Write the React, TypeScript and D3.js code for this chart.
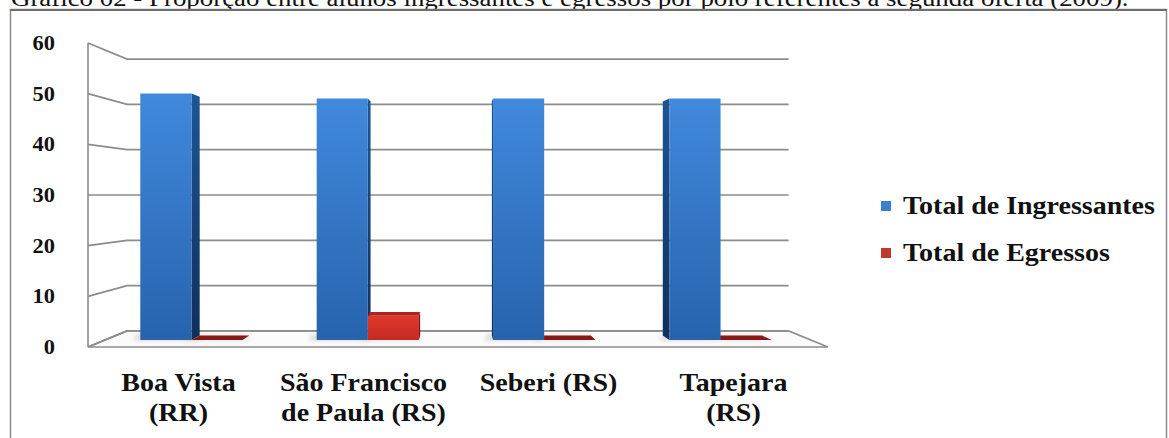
import React from 'react';
import * as d3 from 'd3';

// ---- data ----
const categories = ['Boa Vista (RR)', 'São Francisco de Paula (RS)', 'Seberi (RS)', 'Tapejara (RS)'];
const categoryLines = [['Boa Vista', '(RR)'], ['São Francisco', 'de Paula (RS)'], ['Seberi (RS)'], ['Tapejara', '(RS)']];
const seriesNames = ['Total de Ingressantes', 'Total de Egressos'];
const ingressantes = [51, 50, 50, 50];
const egressos = [0, 5, 0, 0];
const yTicks = [0, 10, 20, 30, 40, 50, 60];
const title = 'Gráfico 02 - Proporção entre alunos ingressantes e egressos por polo referentes à segunda oferta (2009).';

// ---- layout ----
const W = 1169;
const H = 438;
const FONT = "'Liberation Serif', 'Times New Roman', Times, serif";
const SX = 1.12; // horizontal stretch of the lettering

// simple one-point perspective: depth 0 = front plane, depth 1 = back wall
const VP = { x: 456, y: 195 };
const SHRINK = 0.106;
const proj = (px: number, py: number, d: number): [number, number] => {
  const f = 1 - SHRINK * d;
  return [VP.x + (px - VP.x) * f, VP.y + (py - VP.y) * f];
};
const pts = (list: [number, number][]) => list.map((p) => `${p[0].toFixed(2)},${p[1].toFixed(2)}`).join(' ');

const FLOOR_X0 = 88;
const FLOOR_X1 = 828;
const x = d3.scaleBand<string>().domain(categories).range([FLOOR_X0 - 2, FLOOR_X1 - 2]).paddingInner(0.42).paddingOuter(0.21);
const xs = d3.scaleBand<string>().domain(seriesNames).range([0, x.bandwidth()]);
const y = d3.scaleLinear().domain([0, 60]).range([347, 43]);
const D0 = 0.44;
const D1 = 0.72;

type Bar = { x0: number; x1: number; v: number; series: number };
const bars: Bar[] = [];
categories.forEach((c, i) => {
  [ingressantes, egressos].forEach((vals, j) => {
    const x0 = (x(c) as number) + (xs(seriesNames[j]) as number);
    bars.push({ x0, x1: x0 + xs.bandwidth(), v: vals[i], series: j });
  });
});
// paint farthest from the vanishing line first
bars.sort((a, b) => Math.abs((b.x0 + b.x1) / 2 - VP.x) - Math.abs((a.x0 + a.x1) / 2 - VP.x));

const palette = [
  { front: 'url(#blueFront)', side: 'url(#blueSide)' },
  { front: 'url(#redFront)', side: '#7e1512' },
];

const Txt = ({ x: tx, y: ty, anchor = 'start', size, weight = 'bold', children }: any) => (
  <text
    transform={`translate(${tx},${ty}) scale(${SX},1)`}
    textAnchor={anchor}
    fontFamily={FONT}
    fontSize={size}
    fontWeight={weight}
    fill="#111"
  >
    {children}
  </text>
);

export default function App() {
  const yb = y(0);
  return (
    <svg width={W} height={H} style={{ position: 'absolute', left: 0, top: 0, background: '#fff' }}>
      <defs>
        <linearGradient id="blueFront" x1="0" y1="0" x2="0" y2="1">
          <stop offset="0" stopColor="#4189dc" />
          <stop offset="1" stopColor="#2763ad" />
        </linearGradient>
        <linearGradient id="blueSide" x1="0" y1="0" x2="0" y2="1">
          <stop offset="0" stopColor="#1d5595" />
          <stop offset="1" stopColor="#102f5c" />
        </linearGradient>
        <linearGradient id="redFront" x1="0" y1="0" x2="0" y2="1">
          <stop offset="0" stopColor="#e0392e" />
          <stop offset="1" stopColor="#c42a22" />
        </linearGradient>
        <filter id="soft" x="-20%" y="-200%" width="140%" height="500%">
          <feGaussianBlur stdDeviation="2.5" />
        </filter>
      </defs>

      {/* caption above the frame */}
      <Txt x={11} y={6} size={24} weight="normal">{title}</Txt>

      {/* chart frame */}
      <rect x={10.5} y={9.5} width={1156} height={440} fill="#fff" stroke="#8a8a8a" strokeWidth={1.5} />
      <line x1={10} x2={1167} y1={10} y2={10} stroke="#6e6e6e" strokeWidth={2} />

      {/* floor */}
      <polygon
        points={pts([proj(FLOOR_X0, yb, 0), proj(FLOOR_X1, yb, 0), proj(FLOOR_X1, yb, 1), proj(FLOOR_X0, yb, 1)])}
        fill="#fbfbfb"
        stroke="#8f8f8f"
        strokeWidth={1.6}
      />

      {/* gridlines on the side and back walls */}
      {yTicks.map((t) => {
        const a = proj(FLOOR_X0, y(t), 0);
        const b = proj(FLOOR_X0, y(t), 1);
        const c = proj(FLOOR_X1, y(t), 1);
        return <polyline key={t} points={pts([a, b, c])} fill="none" stroke="#8c8c8c" strokeWidth={1.7} />;
      })}
      <line x1={FLOOR_X0} x2={FLOOR_X0} y1={y(60)} y2={yb} stroke="#8c8c8c" strokeWidth={1.6} />

      {/* soft floor shadows of the bars */}
      {bars.map((b, i) => {
        const s = proj(b.x0 - 8, yb, D0 + 0.05);
        const e = proj(b.x1, yb, D1);
        return (
          <rect key={'s' + i} x={s[0]} y={e[1]} width={e[0] - s[0]} height={s[1] - e[1] + 1}
            fill={b.series === 0 ? '#9aa0a8' : '#e3b0ac'} opacity={0.45} filter="url(#soft)" />
        );
      })}

      {/* bars */}
      {bars.map((b, i) => {
        const yt = y(b.v);
        const col = palette[b.series];
        const front = pts([proj(b.x0, yt, D0), proj(b.x1, yt, D0), proj(b.x1, yb, D0), proj(b.x0, yb, D0)]);
        const cx = (b.x0 + b.x1) / 2;
        const sx = cx < VP.x ? b.x1 : b.x0;
        const side = pts([proj(sx, yt, D0), proj(sx, yt, D1), proj(sx, yb, D1), proj(sx, yb, D0)]);
        const topVisible = yt > VP.y;
        const top = pts([proj(b.x0, yt, D0), proj(b.x1, yt, D0), proj(b.x1, yt, D1), proj(b.x0, yt, D1)]);
        return (
          <g key={i}>
            {b.v > 0 && <polygon points={side} fill={col.side} />}
            {b.v > 0 && <polygon points={front} fill={col.front} />}
            {topVisible && <polygon points={top} fill={b.v > 0 ? '#b3241e' : '#861a17'} />}
          </g>
        );
      })}

      {/* value axis labels */}
      {yTicks.map((t) => (
        <Txt key={t} x={55} y={y(t) + 7} anchor="end" size={20}>{t}</Txt>
      ))}

      {/* category labels */}
      {categories.map((c, i) => {
        const cx = (x(c) as number) + x.bandwidth() / 2;
        return categoryLines[i].map((line, k) => (
          <Txt key={c + k} x={cx} y={391 + k * 30} anchor="middle" size={25}>{line}</Txt>
        ));
      })}

      {/* legend */}
      {seriesNames.map((s, i) => (
        <g key={s}>
          <rect x={881} y={201 + i * 47} width={10} height={10} fill={i === 0 ? '#3a7fd0' : '#c0392b'} />
          <Txt x={903} y={214 + i * 47} size={25}>{s}</Txt>
        </g>
      ))}
    </svg>
  );
}
